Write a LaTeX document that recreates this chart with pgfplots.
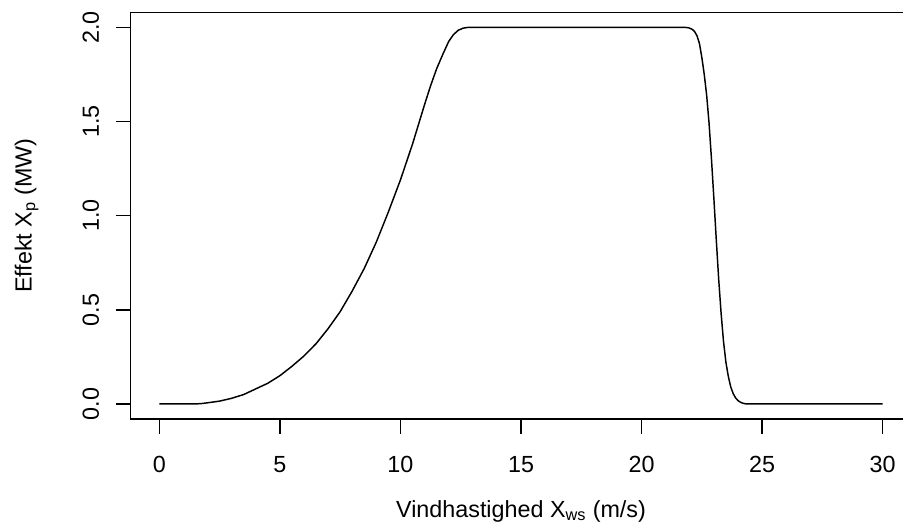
\documentclass[border=0pt]{standalone}
\usepackage{pgfplots}
\pgfplotsset{compat=1.18}
\usepackage{fontspec}
\setmainfont{Liberation Sans}
\newcommand{\fs}{\fontsize{17.5}{21}\selectfont}
\begin{document}
\begin{tikzpicture}[x=1pt,y=1pt]
\useasboundingbox (0,0) rectangle (677.25,396.75);
\clip (0,0) rectangle (677.25,396.75);
\begin{axis}[
  at={(97.8pt,82.5pt)}, anchor=south west,
  scale only axis, width=585.9pt, height=305pt,
  xmin=-1.2, xmax=31.2, ymin=-0.08, ymax=2.08,
  axis line style={line width=1.1pt},
  xtick={0,5,10,15,20,25,30}, xticklabels={0,5,10,15,20,25,30},
  ytick={0,0.5,1,1.5,2}, yticklabels={0.0,0.5,1.0,1.5,2.0},
  tick align=outside, xtick pos=left, ytick pos=left,
  major tick length=11pt,
  tick style={line width=1.1pt, black},
  tick label style={font=\fs},
  label style={font=\fs},
  xticklabel style={yshift=-13.5pt},
  yticklabel style={xshift=-9pt, rotate=90, anchor=south},
  xlabel={Vindhastighed X\textsubscript{ws} (m/s)},
  ylabel={Effekt X\textsubscript{p} (MW)},
  xlabel style={at={(axis description cs:0.5,-0.241)}, anchor=base},
  ylabel style={at={(axis description cs:-0.1263,0.5)}, anchor=base},
]
\addplot[black, line width=1.1pt, line join=round] table {
0 0
1.5 0
1.75 0.002
2 0.006
2.5 0.015
3 0.03
3.5 0.05
4 0.08
4.5 0.11
5 0.15
5.5 0.2
6 0.255
6.5 0.32
7 0.40
7.5 0.49
8 0.60
8.5 0.72
9 0.86
9.5 1.02
10 1.19
10.5 1.38
11 1.59
11.25 1.69
11.5 1.78
11.75 1.855
12 1.925
12.2 1.962
12.4 1.985
12.6 1.996
12.8 2.0
21.8 2.0
21.95 1.998
22.1 1.99
22.2 1.978
22.3 1.955
22.4 1.915
22.5 1.84
22.6 1.75
22.7 1.64
22.8 1.49
22.9 1.30
23.0 1.09
23.1 0.87
23.2 0.66
23.3 0.48
23.4 0.33
23.5 0.22
23.6 0.145
23.7 0.09
23.8 0.055
23.9 0.032
24.0 0.018
24.1 0.009
24.2 0.004
24.3 0.001
24.4 0
30 0
};
\end{axis}
\end{tikzpicture}
\end{document}
